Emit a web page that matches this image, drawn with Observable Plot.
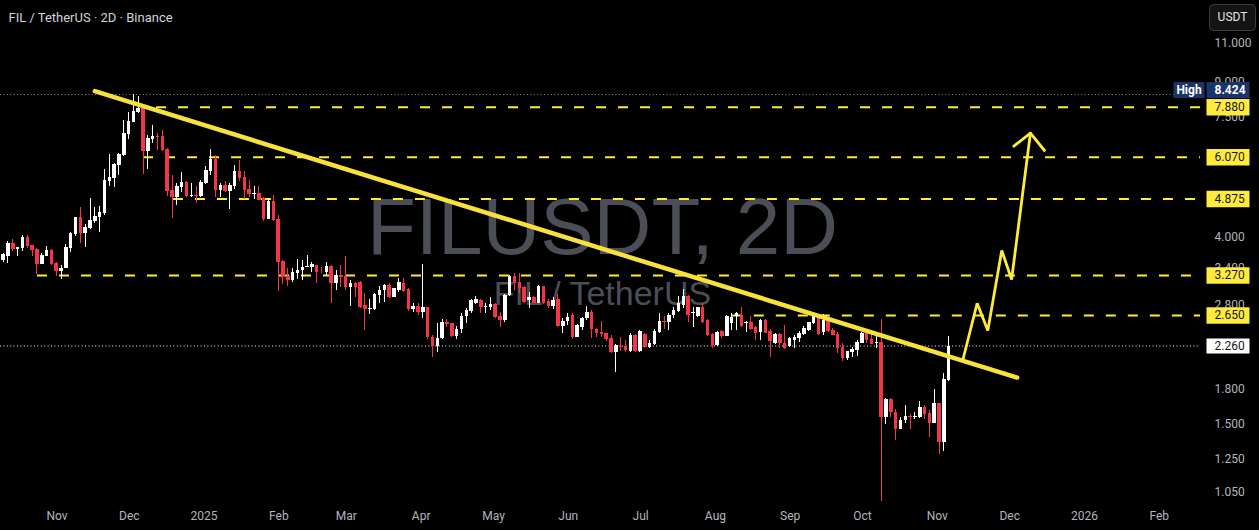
<!DOCTYPE html>
<html>
<head>
<meta charset="utf-8">
<script src="https://cdn.jsdelivr.net/npm/d3@7"></script>
<script src="https://cdn.jsdelivr.net/npm/@observablehq/plot@0.6"></script>
<style>
  html, body { margin: 0; padding: 0; background: #000; }
  #chart svg { display: block; }
</style>
</head>
<body>
<div id="chart"></div>
<script>
// ---------- data ----------
const candleStart = "2024-10-09T17:00Z"; // first 2D candle (centre)
const open = [3.536,3.610,3.858,3.745,3.771,3.995,3.824,3.745,3.468,3.616,3.725,3.481,3.338,3.397,3.771,4.051,4.428,4.072,4.180,4.336,4.428,4.513,5.346,5.430,5.823,6.125,6.835,7.279,7.670,7.846,
6.265,6.659,6.765,6.765,6.320,5.100,4.917,5.181,5.318,4.942,4.968,4.942,5.290,5.633,5.998,5.100,5.235,5.073,5.208,5.633,5.458,5.126,4.994,5.020,4.891,4.381,4.814,4.381,3.517,3.252,
3.184,3.303,3.356,3.414,3.414,3.445,3.340,3.327,3.426,3.140,3.270,3.250,3.075,3.130,3.156,2.794,2.730,2.730,2.944,3.022,3.100,2.918,3.022,3.140,3.030,2.730,2.780,2.700,2.760,2.367,
2.255,2.346,2.560,2.538,2.376,2.460,2.637,2.712,2.830,2.868,2.760,2.760,2.810,2.637,2.583,2.944,3.250,3.156,3.075,2.868,2.908,2.830,3.085,2.858,2.780,2.878,2.503,2.574,2.650,2.367,
2.495,2.610,2.698,2.460,2.430,2.409,2.346,2.188,2.258,2.250,2.200,2.390,2.200,2.400,2.240,2.280,2.430,2.573,2.560,2.650,2.712,2.795,2.928,2.674,2.640,2.760,2.582,2.400,2.265,2.443,
2.375,2.547,2.640,2.650,2.540,2.560,2.494,2.430,2.582,2.443,2.285,2.400,2.290,2.260,2.326,2.346,2.400,2.450,2.538,2.628,2.420,2.580,2.450,2.400,2.246,2.113,2.180,2.207,2.290,2.409,
2.334,2.290,2.300,1.557,1.705,1.600,1.460,1.530,1.565,1.557,1.557,1.640,1.585,1.510,1.673,1.366,1.890];
const high = [3.674,3.905,3.939,3.790,4.030,4.030,3.830,3.758,3.674,3.804,3.745,3.505,3.438,3.838,4.101,4.430,4.665,4.268,4.891,4.665,4.690,5.692,6.157,5.874,6.189,7.342,7.670,8.424,8.350,7.998,
6.800,7.166,6.872,6.981,6.353,5.516,5.290,5.603,5.346,5.290,5.208,5.374,5.782,6.320,6.125,5.290,5.346,5.290,5.813,5.967,5.633,5.374,5.208,5.208,4.917,4.865,4.968,4.474,3.536,3.391,
3.391,3.550,3.536,3.630,3.505,3.450,3.414,3.505,3.445,3.356,3.445,3.610,3.184,3.156,3.170,2.970,2.878,2.970,3.085,3.113,3.129,3.050,3.212,3.212,3.048,2.818,2.818,3.463,2.770,2.388,
2.538,2.592,2.592,2.540,2.504,2.675,2.746,2.878,2.928,2.878,2.818,2.908,2.818,2.698,2.960,3.270,3.310,3.298,3.085,2.996,2.928,3.100,3.090,2.878,2.918,2.960,2.605,2.675,2.675,2.530,
2.620,2.780,2.722,2.473,2.570,2.418,2.390,2.280,2.360,2.326,2.416,2.400,2.451,2.416,2.326,2.470,2.683,2.640,2.683,2.769,2.928,3.030,2.944,2.769,2.770,2.818,2.590,2.408,2.443,2.445,
2.650,2.674,2.700,2.769,2.570,2.640,2.500,2.590,2.590,2.460,2.408,2.408,2.516,2.367,2.388,2.443,2.505,2.560,2.674,2.640,2.660,2.630,2.480,2.420,2.290,2.200,2.246,2.326,2.430,2.430,
2.440,2.420,2.592,1.714,1.714,1.620,1.557,1.656,1.580,1.600,1.694,1.656,1.613,1.800,1.673,1.960,2.375];
const low = [3.505,3.487,3.712,3.610,3.712,3.758,3.616,3.280,3.460,3.610,3.444,3.252,3.207,3.390,3.693,4.015,3.871,3.791,4.164,4.298,4.101,4.474,5.208,5.190,5.516,6.093,6.659,7.270,7.630,5.545,
5.692,6.522,6.287,6.254,4.942,4.404,4.714,5.046,4.917,4.917,4.764,4.917,5.262,5.516,4.917,4.917,5.046,4.617,5.126,5.346,4.865,4.917,4.865,4.830,4.336,4.370,4.336,3.000,3.118,3.086,
3.151,3.201,3.184,3.400,3.320,3.140,3.298,3.270,2.818,3.022,3.075,3.022,2.780,2.918,2.746,2.451,2.665,2.720,2.818,2.843,2.893,2.910,2.996,2.996,2.710,2.700,2.650,2.605,2.334,2.125,
2.190,2.334,2.486,2.359,2.334,2.409,2.538,2.675,2.810,2.675,2.675,2.722,2.605,2.495,2.560,2.930,3.022,2.970,2.830,2.746,2.818,2.818,2.815,2.746,2.730,2.495,2.409,2.516,2.334,2.359,
2.451,2.583,2.346,2.367,2.367,2.318,2.169,1.970,2.200,2.188,2.188,2.190,2.180,2.230,2.230,2.270,2.416,2.470,2.450,2.605,2.698,2.745,2.560,2.494,2.630,2.538,2.375,2.230,2.250,2.350,
2.370,2.451,2.451,2.494,2.430,2.451,2.320,2.320,2.408,2.130,2.280,2.230,2.220,2.246,2.230,2.305,2.390,2.440,2.525,2.390,2.390,2.430,2.390,2.176,2.088,2.095,2.132,2.140,2.286,2.286,
2.280,2.230,1.000,1.500,1.557,1.378,1.460,1.510,1.460,1.535,1.543,1.535,1.403,1.510,1.280,1.300,1.880];
const close = [3.648,3.871,3.745,3.785,3.995,3.804,3.725,3.468,3.629,3.725,3.468,3.344,3.385,3.785,4.072,4.428,4.072,4.202,4.359,4.451,4.545,5.374,5.458,5.853,6.157,6.872,7.317,7.711,7.846,6.265,
6.694,6.765,6.741,6.287,5.073,4.917,5.208,5.318,4.942,4.968,4.942,5.318,5.662,5.998,5.100,5.235,5.073,5.235,5.633,5.430,5.100,4.994,5.020,4.840,4.381,4.814,4.359,3.498,3.235,3.184,
3.321,3.356,3.414,3.426,3.457,3.327,3.330,3.426,3.140,3.270,3.240,3.075,3.140,3.075,2.770,2.730,2.746,2.960,3.022,3.100,2.908,3.048,3.156,3.010,2.730,2.780,2.700,2.760,2.367,2.255,
2.346,2.560,2.530,2.376,2.460,2.637,2.722,2.868,2.878,2.760,2.780,2.810,2.628,2.583,2.944,3.250,3.130,3.048,2.843,2.908,2.830,3.085,2.818,2.780,2.868,2.503,2.574,2.628,2.367,2.516,
2.605,2.698,2.460,2.409,2.400,2.334,2.188,2.266,2.240,2.207,2.390,2.200,2.443,2.240,2.285,2.443,2.573,2.560,2.650,2.721,2.818,2.928,2.650,2.690,2.760,2.560,2.388,2.265,2.430,2.375,
2.638,2.628,2.683,2.500,2.560,2.470,2.416,2.582,2.416,2.318,2.400,2.285,2.230,2.346,2.367,2.416,2.473,2.550,2.640,2.400,2.580,2.440,2.390,2.227,2.113,2.195,2.220,2.300,2.409,2.326,
2.280,2.300,1.557,1.705,1.600,1.460,1.530,1.563,1.557,1.565,1.640,1.580,1.510,1.673,1.366,1.897,2.260];

const yTicks = [11, 9, 7.5, 4, 3.4, 2.8, 1.8, 1.5, 1.25, 1.05];
const xTicks = ["2024-11-01","2024-12-01","2025-01-01","2025-02-01","2025-03-01","2025-04-01","2025-05-01","2025-06-01","2025-07-01","2025-08-01","2025-09-01","2025-10-01","2025-11-01","2025-12-01","2026-01-01","2026-02-01"];
const xTickLabels = ["Nov","Dec","2025","Feb","Mar","Apr","May","Jun","Jul","Aug","Sep","Oct","Nov","Dec","2026","Feb"];

const levelPrices = [7.88, 6.07, 4.875, 3.27, 2.65];
const levelStarts = ["2024-12-12T07:00Z","2024-12-06T22:00Z","2024-12-19T07:00Z","2024-10-23T22:00Z","2025-08-08T00:00Z"];
const highPrice = 8.424;
const lastPrice = 2.26;

const trendDates = ["2024-11-16T17:00Z","2025-12-04T02:00Z"];
const trendPrices = [8.574, 1.916];
const arrowDates = ["2025-11-11T17:00Z","2025-11-17T12:00Z","2025-11-21T22:00Z","2025-11-27T17:00Z","2025-12-01T19:00Z","2025-12-09T14:00Z"];
const arrowPrices = [2.114, 2.827, 2.451, 3.725, 3.201, 6.883];
const headDates = ["2025-12-02T17:00Z","2025-12-09T14:00Z","2025-12-15T10:00Z"];
const headPrices = [6.43, 6.883, 6.286];

const xDomain = [new Date("2024-10-08T14:24Z"), new Date("2026-02-18T02:24Z")];
const yDomain = [0.981, 13.78];

// ---------- tables ----------
const t0 = new Date(candleStart);
const candles = open.map((o, i) => ({
  date: d3.utcHour.offset(t0, 48 * i),
  open: o, high: high[i], low: low[i], close: close[i]
}));
const WHITE = "#ffffff", RED = "#f23645", YEL = "#ffeb3b";
const col = d => d.close >= d.open ? WHITE : RED;
const trend = trendDates.map((d, i) => ({date: new Date(d), price: trendPrices[i]}));
const arrow = arrowDates.map((d, i) => ({date: new Date(d), price: arrowPrices[i]}));
const head = headDates.map((d, i) => ({date: new Date(d), price: headPrices[i]}));
const levels = levelPrices.map((p, i) => ({price: p, start: new Date(levelStarts[i]), end: xDomain[1], label: d3.format(".3f")(p)}));
const xLabelMap = new Map(xTicks.map((d, i) => [+new Date(d), xTickLabels[i]]));

const box = (w, h) => ({draw(c) { c.rect(-w / 2, -h / 2, w, h); }});
const roundBox = (w, h, r) => ({draw(c) {
  const x = -w / 2, y = -h / 2;
  c.moveTo(x + r, y); c.lineTo(x + w - r, y); c.arcTo(x + w, y, x + w, y + r, r);
  c.lineTo(x + w, y + h - r); c.arcTo(x + w, y + h, x + w - r, y + h, r);
  c.lineTo(x + r, y + h); c.arcTo(x, y + h, x, y + h - r, r);
  c.lineTo(x, y + r); c.arcTo(x, y, x + r, y, r); c.closePath();
}});

const chart = Plot.plot({
  width: 1259,
  height: 530,
  marginLeft: 0,
  marginRight: 59,
  marginTop: 0,
  marginBottom: 25,
  style: {background: "#000", color: "#b2b5be", fontFamily: "Roboto, 'Liberation Sans', sans-serif", fontSize: "12px"},
  x: {type: "utc", domain: xDomain},
  y: {type: "log", domain: yDomain},
  color: {type: "identity"},
  marks: [
    // watermark
    Plot.text(["FILUSDT, 2D"], {frameAnchor: "top", dx: 2, dy: 253, lineAnchor: "bottom", fontSize: 80, fill: "#4b4d57", fontFamily: "'Liberation Sans', Arial, sans-serif"}),
    Plot.text(["FIL / TetherUS"], {frameAnchor: "top", dx: 2, dy: 304, lineAnchor: "bottom", fontSize: 34, fill: "#4b4d57", fontFamily: "'Liberation Sans', Arial, sans-serif"}),
    // dotted reference lines
    Plot.ruleY([highPrice], {stroke: "#9598a1", strokeWidth: 1, strokeDasharray: "1,2.4"}),
    Plot.ruleY([lastPrice], {stroke: "#ffffff", strokeWidth: 1, strokeDasharray: "1,2.4"}),
    // dashed levels
    Plot.ruleY(levels, {y: "price", x1: "start", x2: "end", stroke: YEL, strokeWidth: 2, strokeDasharray: "10,12"}),
    // candles
    Plot.ruleX(candles, {x: "date", y1: "low", y2: "high", stroke: col, strokeWidth: 1, shapeRendering: "crispEdges"}),
    Plot.ruleX(candles, {x: "date", y1: "open", y2: "close", stroke: col, strokeWidth: 3.5, shapeRendering: "crispEdges"}),
    // trendline & projection
    Plot.line(trend, {x: "date", y: "price", stroke: "#f7e23c", strokeWidth: 4.5, strokeLinecap: "round"}),
    Plot.line(arrow, {x: "date", y: "price", stroke: YEL, strokeWidth: 2.8, strokeLinejoin: "miter"}),
    Plot.line(head, {x: "date", y: "price", stroke: YEL, strokeWidth: 2.8, strokeLinejoin: "miter"}),
    // axes
    Plot.axisY({anchor: "right", ticks: yTicks, tickFormat: d3.format(".3f"), tickSize: 0, tickPadding: 14, color: "#b2b5be", fontSize: 12}),
    Plot.axisX({ticks: xTicks.map(d => new Date(d)), tickFormat: d => xLabelMap.get(+d), tickSize: 0, tickPadding: 6, color: "#b2b5be", fontSize: 12}),
    // price label boxes
    Plot.dot(levels, {y: "price", frameAnchor: "right", dx: 27.5, symbol: box(43, 16.5), fill: YEL, stroke: "none"}),
    Plot.text(levels, {y: "price", text: "label", frameAnchor: "right", dx: 14, textAnchor: "start", fill: "#131722", fontSize: 12}),
    Plot.dot([lastPrice], {y: d => d, frameAnchor: "right", dx: 27.5, symbol: box(43, 15), fill: "#ffffff", stroke: "none"}),
    Plot.text([lastPrice], {y: d => d, text: d => d3.format(".3f")(d), frameAnchor: "right", dx: 14, textAnchor: "start", fill: "#131722", fontSize: 12}),
    Plot.dot([highPrice], {y: d => d, frameAnchor: "right", dx: 27.5, dy: -4.5, symbol: box(43, 16), fill: "#1c3568", stroke: "none"}),
    Plot.dot([highPrice], {y: d => d, frameAnchor: "right", dx: -11.5, dy: -4.5, symbol: box(31, 16), fill: "#1c3568", stroke: "none"}),
    Plot.text([highPrice], {y: d => d, text: d => d3.format(".3f")(d), frameAnchor: "right", dx: 14, dy: -4.5, textAnchor: "start", fill: "#ffffff", fontWeight: "bold", fontSize: 12}),
    Plot.text(["High"], {y: () => highPrice, frameAnchor: "right", dx: -11.5, dy: -4.5, textAnchor: "middle", fill: "#ffffff", fontWeight: "bold", fontSize: 12}),
    // currency box
    Plot.dot(["USDT"], {frameAnchor: "top-right", dx: 32, dy: 17, symbol: roundBox(46, 26, 4), fill: "#141414", stroke: "#3a3c42", strokeWidth: 1}),
    Plot.text(["USDT"], {frameAnchor: "top-right", dx: 32, dy: 17, textAnchor: "middle", lineAnchor: "middle", fill: "#e0e3eb", fontSize: 12}),
    // title
    Plot.text(["FIL / TetherUS · 2D · Binance"], {frameAnchor: "top-left", dx: 8, dy: 12, textAnchor: "start", lineAnchor: "top", fill: "#d1d4dc", fontSize: 13})
  ]
});
document.getElementById("chart").append(chart);
</script>
</body>
</html>
